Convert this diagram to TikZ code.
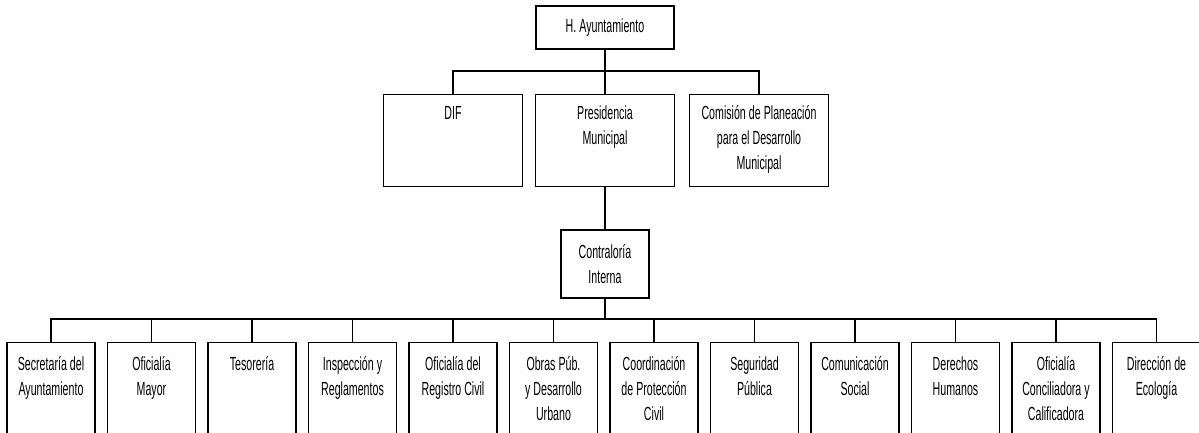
\documentclass[tikz,border=0pt]{standalone}
\usepackage{fontspec}
\setmainfont{Liberation Sans}[FakeStretch=0.56,WordSpace=0.6]
\usetikzlibrary{positioning}

\tikzset{
  organo/.style={draw, line width=1.1pt, align=center, inner sep=0pt,
    font=\fontsize{19}{25}\selectfont,
    execute at begin node={\spaceskip=0.16em\relax}},
  rama/.style={organo, text width=139pt, text height=25pt, text depth=67pt, anchor=north},
  area/.style={organo, text width=88pt, text height=28pt, text depth=90pt, anchor=north},
  enlace/.style={line width=1.1pt}
}

\begin{document}
\begin{tikzpicture}[x=1pt,y=-1pt]
    \clip (0,0) rectangle (1199,433);

    % cabeza
    \node[organo, minimum width=138pt, minimum height=43pt] (ayto) at (605,27.5) {H. Ayuntamiento};

    % segundo nivel
    \node[rama] (dif)  at (453,94) {DIF};
    \node[rama] (pres) at (605,94) {Presidencia\\Municipal};
    \node[rama] (plan) at (759,94) {Comisión de Planeación\\para el Desarrollo\\Municipal};

    \node[organo, minimum width=88pt, minimum height=68pt] (contra) at (605,264) {Contraloría\\Interna};

    % direcciones
    \node[area] (secre)  at (51,342)    {Secretaría del\\Ayuntamiento};
    \node[area] (ofmay)  at (151.5,342) {Oficialía\\Mayor};
    \node[area] (teso)   at (252,342)   {Tesorería};
    \node[area] (insp)   at (352.5,342) {Inspección y\\Reglamentos};
    \node[area] (regciv) at (453,342)   {Oficialía del\\Registro Civil};
    \node[area] (obras)  at (553.5,342) {Obras Púb.\\y Desarrollo\\Urbano};
    \node[area] (protec) at (654,342)   {Coordinación\\de Protección\\Civil};
    \node[area] (segur)  at (754.5,342) {Seguridad\\Pública};
    \node[area] (comun)  at (855,342)   {Comunicación\\Social};
    \node[area] (derech) at (955.5,342) {Derechos\\Humanos};
    \node[area] (concil) at (1056,342)  {Oficialía\\Conciliadora y\\Calificadora};
    \node[area] (ecolog) at (1156.5,342) {Dirección de\\Ecología};

    \coordinate (bus1) at (605,71);
    \coordinate (bus2) at (605,319);

    \draw[enlace] (ayto) -- (pres);
    \draw[enlace] (dif.north) |- (bus1);
    \draw[enlace] (plan.north) |- (bus1);
    \draw[enlace] (pres) -- (contra);
    \draw[enlace] (contra) -- (bus2);
    \foreach \n in {secre,ofmay,teso,insp,regciv,obras,protec,segur,comun,derech,concil,ecolog}
      \draw[enlace] (\n.north) |- (bus2);
\end{tikzpicture}
\end{document}
